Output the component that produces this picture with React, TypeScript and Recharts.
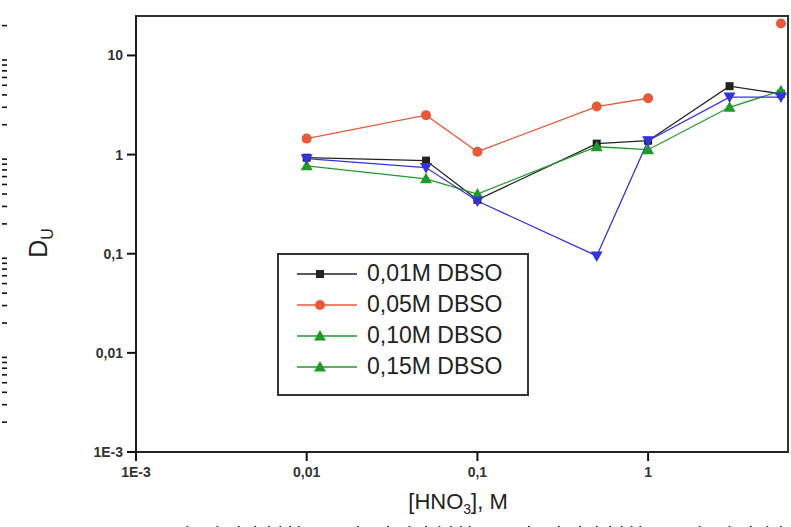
import { LineChart, Line, XAxis, YAxis, ReferenceArea } from "recharts";

// [HNO3], M
const HNO3 = [0.01, 0.05, 0.1, 0.5, 1, 3, 6];

// D_U for each DBSO concentration
const DBSO_001 = [0.93, 0.87, 0.35, 1.29, 1.38, 4.9, 4.1];
const DBSO_005 = [1.45, 2.5, 1.07, 3.05, 3.7, null, 21];
const DBSO_010 = [0.77, 0.57, 0.4, 1.2, 1.12, 3.0, 4.4];
const DBSO_015 = [0.91, 0.74, 0.34, 0.095, 1.38, 3.8, 3.8];

const X_MAJOR = [0.001, 0.01, 0.1, 1];
const X_LABELS = ["1E-3", "0,01", "0,1", "1"];
const Y_MAJOR = [0.001, 0.01, 0.1, 1, 10];
const Y_LABELS = ["1E-3", "0,01", "0,1", "1", "10"];
const MINOR_STEPS = [2, 3, 4, 5, 6, 7, 8, 9];

const X_DOMAIN: [number, number] = [0.001, 6.6];
const Y_DOMAIN: [number, number] = [0.001, 25];

const minorsOf = (majors: number[], max: number) => {
  const out: number[] = [];
  for (const m of majors) {
    for (const s of MINOR_STEPS) {
      const v = +(m * s).toPrecision(3);
      if (v <= max) out.push(v);
    }
  }
  return out;
};
const X_MINOR = minorsOf(X_MAJOR, X_DOMAIN[1]);
const Y_MINOR = minorsOf(Y_MAJOR, Y_DOMAIN[1]);

const rows = HNO3.map((x, i) => ({
  x,
  d001: DBSO_001[i],
  d005: DBSO_005[i],
  d010: DBSO_010[i],
  d015: DBSO_015[i],
}));

type Shape = "square" | "circle" | "up" | "down";

const SERIES: { key: string; name: string; color: string; shape: Shape; legendColor: string; legendShape: Shape }[] = [
  { key: "d001", name: "0,01M DBSO", color: "#222222", shape: "square", legendColor: "#222222", legendShape: "square" },
  { key: "d005", name: "0,05M DBSO", color: "#e8583a", shape: "circle", legendColor: "#e8583a", legendShape: "circle" },
  { key: "d010", name: "0,10M DBSO", color: "#1f9a2a", shape: "up", legendColor: "#1f9a2a", legendShape: "up" },
  { key: "d015", name: "0,15M DBSO", color: "#3434d8", shape: "down", legendColor: "#1f9a2a", legendShape: "up" },
];

const FONT = "'Liberation Sans', Arial, sans-serif";
const AXIS = "#222";

function Marker({ cx, cy, shape, color }: { cx: number; cy: number; shape: Shape; color: string }) {
  if (shape === "square") return <rect x={cx - 4} y={cy - 4} width={8} height={8} fill={color} />;
  if (shape === "circle") return <circle cx={cx} cy={cy} r={5} fill={color} />;
  if (shape === "up")
    return <polygon points={`${cx},${cy - 6} ${cx - 6},${cy + 4.5} ${cx + 6},${cy + 4.5}`} fill={color} />;
  return <polygon points={`${cx - 6},${cy - 4.5} ${cx + 6},${cy - 4.5} ${cx},${cy + 6}`} fill={color} />;
}

const labelStyle = { fontFamily: FONT, fontSize: 14, fontWeight: "bold" as const, fill: "#333" };

// label only: the axis draws the tick marks
function XTickLabel(props: any) {
  const { x, y, payload } = props;
  const i = X_MAJOR.indexOf(payload.value);
  if (i < 0) return <g />;
  return (
    <text x={x} y={y + 14} textAnchor="middle" {...labelStyle}>
      {X_LABELS[i]}
    </text>
  );
}

function YTickLabel(props: any) {
  const { x, y, payload } = props;
  const i = Y_MAJOR.indexOf(payload.value);
  if (i < 0) return <g />;
  return (
    <text x={x - 2} y={y + 5} textAnchor="end" {...labelStyle}>
      {Y_LABELS[i]}
    </text>
  );
}

// minor ticks: line only, no text
function NoLabel() {
  return <g />;
}

function LegendBox() {
  return (
    <div
      style={{
        position: "absolute",
        left: 277,
        top: 253,
        boxSizing: "border-box",
        width: 252,
        height: 143,
        border: "2px solid #333",
        background: "#fff",
        padding: "3px 0 0 18px",
        fontFamily: FONT,
      }}
    >
      {SERIES.map((s) => (
        <div key={s.key} style={{ display: "flex", alignItems: "center", height: 31 }}>
          <svg width={60} height={16} style={{ marginRight: 10, flex: "none" }}>
            <line x1={0} x2={60} y1={8} y2={8} stroke={s.legendColor} strokeWidth={1.5} />
            <Marker cx={23} cy={8} shape={s.legendShape} color={s.legendColor} />
          </svg>
          <span style={{ fontSize: 23, color: "#222", whiteSpace: "nowrap" }}>{s.name}</span>
        </div>
      ))}
    </div>
  );
}

export default function App() {
  return (
    <div style={{ position: "absolute", left: 0, top: 0, width: 791, height: 527, background: "#fff" }}>
      <LineChart width={791} height={527} data={rows} margin={{ top: 16, right: 3, left: 6, bottom: 0 }}>
        {/* major ticks with labels */}
        <XAxis
          dataKey="x"
          type="number"
          scale="log"
          domain={X_DOMAIN}
          allowDataOverflow
          ticks={X_MAJOR}
          interval={0}
          tick={<XTickLabel />}
          tickSize={9}
          tickLine={{ stroke: "#111", strokeWidth: 2 }}
          axisLine={{ stroke: AXIS, strokeWidth: 2 }}
          height={74}
        />
        <YAxis
          type="number"
          scale="log"
          domain={Y_DOMAIN}
          allowDataOverflow
          ticks={Y_MAJOR}
          interval={0}
          tick={<YTickLabel />}
          tickSize={9}
          tickLine={{ stroke: "#111", strokeWidth: 2 }}
          axisLine={{ stroke: AXIS, strokeWidth: 2 }}
          width={129}
        />
        {/* minor ticks */}
        <XAxis
          xAxisId="minor"
          dataKey="x"
          type="number"
          scale="log"
          domain={X_DOMAIN}
          allowDataOverflow
          ticks={X_MINOR}
          interval={0}
          tick={<NoLabel />}
          tickSize={5}
          tickLine={{ stroke: "#111", strokeWidth: 1.6 }}
          axisLine={false}
          height={1}
        />
        <YAxis
          yAxisId="minor"
          type="number"
          scale="log"
          domain={Y_DOMAIN}
          allowDataOverflow
          ticks={Y_MINOR}
          interval={0}
          tick={<NoLabel />}
          tickSize={5}
          tickLine={{ stroke: "#111", strokeWidth: 1.6 }}
          axisLine={false}
          width={1}
        />
        <ReferenceArea
          x1={X_DOMAIN[0]}
          x2={X_DOMAIN[1]}
          y1={Y_DOMAIN[0]}
          y2={Y_DOMAIN[1]}
          fill="none"
          stroke="#333"
          strokeWidth={2}
        />
        {SERIES.map((s) => (
          <Line
            key={s.key}
            dataKey={s.key}
            name={s.name}
            stroke={s.color}
            strokeWidth={1.3}
            isAnimationActive={false}
            connectNulls={false}
            dot={(p: any) =>
              p.cx == null || p.cy == null || p.value == null ? (
                <g key={p.key ?? `${s.key}-${p.index}`} />
              ) : (
                <Marker key={p.key ?? `${s.key}-${p.index}`} cx={p.cx} cy={p.cy} shape={s.shape} color={s.color} />
              )
            }
            activeDot={false}
          />
        ))}
      </LineChart>
      <LegendBox />
      <div
        style={{
          position: "absolute",
          left: 40,
          top: 243,
          transform: "translate(-50%, -50%) rotate(-90deg)",
          fontFamily: FONT,
          fontSize: 25,
          color: "#222",
          whiteSpace: "nowrap",
        }}
      >
        D<sub style={{ fontSize: 16 }}>U</sub>
      </div>
      <div
        style={{
          position: "absolute",
          left: 458,
          top: 503,
          transform: "translate(-50%, -50%)",
          fontFamily: FONT,
          fontSize: 22,
          color: "#222",
          whiteSpace: "nowrap",
        }}
      >
        [HNO<sub style={{ fontSize: 14 }}>3</sub>], M
      </div>
    </div>
  );
}
